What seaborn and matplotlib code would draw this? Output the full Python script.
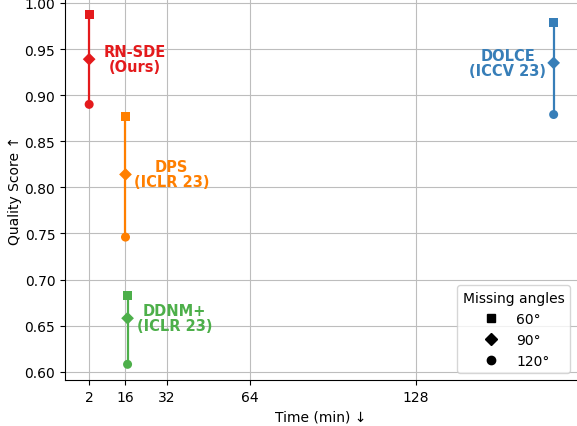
import numpy as np
import pandas as pd
import seaborn as sns
import matplotlib.pyplot as plt
from matplotlib.lines import Line2D

# values
methods = ["RN-SDE\n(Ours)", "DPS\n(ICLR 23)", "DDNM+\n(ICLR 23)", "DOLCE\n(ICCV 23)"]
times = [2, 16, 16.8, 181]
score_60 = [0.987, 0.877, 0.683, 0.979]
score_90 = [0.939, 0.814, 0.658, 0.935]
score_120 = [0.890, 0.746, 0.608, 0.879]
angles = ["60°", "90°", "120°"]
colors = ["#e41a1c", "#ff7f00", "#4daf4a", "#377eb8"]
label_dx = [33, 33, 34, -33]   # offset of the method name, points

rows = []
for m, t, a, b, c in zip(methods, times, score_60, score_90, score_120):
    for ang, s in zip(angles, [a, b, c]):
        rows.append({"method": m, "time": t, "angle": ang, "score": s})
df = pd.DataFrame(rows)

palette = dict(zip(methods, colors))
markers = {"60°": "s", "90°": "D", "120°": "o"}

fig = plt.figure(figsize=(5.77, 4.27), dpi=100)
ax = fig.add_axes([0.1127, 0.1077, 0.8873, 0.8923])

sns.lineplot(data=df, x="time", y="score", hue="method", palette=palette,
             estimator=None, sort=False, linewidth=1.6, legend=False, ax=ax)
sns.scatterplot(data=df, x="time", y="score", hue="method", style="angle",
                palette=palette, markers=markers, s=42, edgecolor="none",
                legend=False, ax=ax, zorder=3)

for m, t, y, dx, c in zip(methods, times, score_90, label_dx, colors):
    ax.annotate(m, (t, y), xytext=(dx, 0), textcoords="offset points",
                ha="center", va="center", color=c, fontweight="bold",
                fontsize=10.5, linespacing=1.0)

ax.set_xlim(-7.3, 190)
ax.set_ylim(0.591, 1.0043)
ax.set_xticks([2, 16, 32, 64, 128])
ax.set_yticks(np.arange(0.60, 1.001, 0.05))
ax.grid(True, color="#bdbdbd", linewidth=0.8)
ax.set_axisbelow(True)
sns.despine(ax=ax)
ax.set_xlabel("Time (min) ↓")
ax.set_ylabel("Quality Score ↑", labelpad=2)

handles = [Line2D([], [], linestyle="none", marker=markers[a], color="black",
                  markersize=6) for a in angles]
ax.legend(handles, angles, title="Missing angles", loc="lower right",
          fontsize=10, title_fontsize=10)

fig.savefig("out.png", dpi=100)
